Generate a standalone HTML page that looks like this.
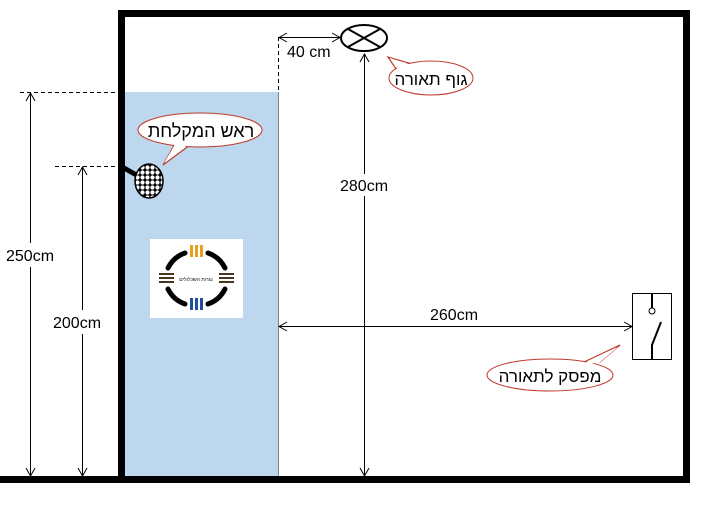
<!DOCTYPE html>
<html><head><meta charset="utf-8"><style>
html,body{margin:0;padding:0;background:#fff;width:708px;height:512px;overflow:hidden}
svg{display:block}
text{font-family:"Liberation Sans","DejaVu Sans",sans-serif;fill:#000}
</style></head><body>
<svg width="708" height="512" viewBox="0 0 708 512" xmlns="http://www.w3.org/2000/svg">
<defs>
<pattern id="dots" width="5" height="5" patternUnits="userSpaceOnUse">
<rect width="5" height="5" fill="#000"/><circle cx="2.5" cy="2.5" r="2.1" fill="#fff"/>
</pattern>
</defs>
<!-- blue area -->
<rect x="125" y="92" width="153" height="385" fill="#bdd7ee"/>
<line x1="278.5" y1="92" x2="278.5" y2="477" stroke="#6f8799" stroke-width="1"/>
<!-- walls -->
<rect x="118" y="10" width="572" height="7" fill="#000"/>
<rect x="118" y="10" width="7" height="473" fill="#000"/>
<rect x="683" y="10" width="7" height="473" fill="#000"/>
<rect x="0" y="476" width="690" height="7" fill="#000"/>
<!-- logo -->
<rect x="150" y="239" width="93" height="79" fill="#fff"/>
<g fill="none" stroke="#000" stroke-width="5" stroke-linecap="round">
<path d="M185,253 A30,30 0 0 0 168,268"/>
<path d="M208,253 A30,30 0 0 1 225,268"/>
<path d="M168,289 A30,30 0 0 0 185,304"/>
<path d="M225,289 A30,30 0 0 1 208,304"/>
</g>
<g fill="#e8a020"><rect x="190" y="245" width="3" height="12"/><rect x="195" y="245" width="3" height="12"/><rect x="200" y="245" width="3" height="12"/></g>
<g fill="#1f4fa0"><rect x="190" y="298" width="3" height="12"/><rect x="195" y="298" width="3" height="12"/><rect x="200" y="298" width="3" height="12"/></g>
<g fill="#4a3520"><rect x="159" y="273" width="15" height="2"/><rect x="159" y="277" width="15" height="2"/><rect x="159" y="281" width="15" height="2"/>
<rect x="219" y="273" width="15" height="2"/><rect x="219" y="277" width="15" height="2"/><rect x="219" y="281" width="15" height="2"/></g>
<text x="196" y="281" font-size="5" text-anchor="middle">נגרות השכלולים</text>
<!-- shower -->
<line x1="124" y1="168" x2="140" y2="177" stroke="#000" stroke-width="5"/>
<ellipse cx="149" cy="181" rx="14" ry="17" fill="url(#dots)" stroke="#000" stroke-width="1.5"/>
<!-- lamp -->
<ellipse cx="364" cy="38" rx="23" ry="13" fill="#fff" stroke="#000" stroke-width="2"/>
<line x1="348" y1="29" x2="380" y2="47" stroke="#000" stroke-width="2"/>
<line x1="348" y1="47" x2="380" y2="29" stroke="#000" stroke-width="2"/>
<!-- 40cm -->
<line x1="278.5" y1="37" x2="278.5" y2="92" stroke="#000" stroke-dasharray="4,3"/>
<line x1="279" y1="37.5" x2="340" y2="37.5" stroke="#000"/>
<path d="M287,33 L279,37.5 L287,42 M332,33 L340,37.5 L332,42" fill="none" stroke="#000"/>
<text x="287" y="57" font-size="16">40 cm</text>
<!-- 280 -->
<line x1="364.5" y1="54" x2="364.5" y2="476" stroke="#000"/>
<path d="M360,62 L364.5,54 L369,62 M360,468 L364.5,476 L369,468" fill="none" stroke="#000"/>
<rect x="338" y="174" width="56" height="22" fill="#fff"/>
<text x="340" y="191" font-size="16">280cm</text>
<!-- 250 -->
<line x1="20" y1="92.5" x2="118" y2="92.5" stroke="#000" stroke-dasharray="4,3"/>
<line x1="30.5" y1="93" x2="30.5" y2="476" stroke="#000"/>
<path d="M26,101 L30.5,93 L35,101 M26,468 L30.5,476 L35,468" fill="none" stroke="#000"/>
<rect x="4" y="243" width="58" height="24" fill="#fff"/>
<text x="6" y="261" font-size="16">250cm</text>
<!-- 200 -->
<line x1="55" y1="166.5" x2="118" y2="166.5" stroke="#000" stroke-dasharray="4,3"/>
<line x1="82.5" y1="167" x2="82.5" y2="476" stroke="#000"/>
<path d="M78,175 L82.5,167 L87,175 M78,468 L82.5,476 L87,468" fill="none" stroke="#000"/>
<rect x="52" y="310" width="56" height="24" fill="#fff"/>
<text x="53" y="328" font-size="16">200cm</text>
<!-- 260 -->
<line x1="279" y1="326.5" x2="632" y2="326.5" stroke="#000"/>
<path d="M287,322 L279,326.5 L287,331 M624,322 L632,326.5 L624,331" fill="none" stroke="#000"/>
<text x="430" y="320" font-size="16">260cm</text>
<!-- switch -->
<rect x="632.5" y="293.5" width="39" height="66" fill="#fff" stroke="#000"/>
<line x1="652" y1="294" x2="652" y2="308" stroke="#000" stroke-width="2"/>
<circle cx="652" cy="311" r="3" fill="#fff" stroke="#000"/>
<line x1="661" y1="322" x2="652" y2="345" stroke="#000" stroke-width="2"/>
<line x1="652" y1="344" x2="652" y2="360" stroke="#000" stroke-width="2"/>
<!-- callout 1 -->
<polygon points="176,142 194,142 163,165" fill="#fff" stroke="#c0392b" stroke-width="1.2"/>
<ellipse cx="200" cy="130" rx="62" ry="17" fill="#fff" stroke="#c0392b" stroke-width="1"/>
<polygon points="177,141 193,141 164,163" fill="#fff"/>
<text x="201" y="137" font-size="18" text-anchor="middle">ראש המקלחת</text>
<!-- callout 2 -->
<polygon points="398,72 412,64 388,57" fill="#fff" stroke="#c0392b" stroke-width="1.2"/>
<ellipse cx="431" cy="78" rx="42" ry="17" fill="#fff" stroke="#c0392b" stroke-width="1"/>
<polygon points="399,71 411,65 390,58" fill="#fff"/>
<text x="431" y="85" font-size="17" text-anchor="middle">גוף תאורה</text>
<!-- callout 3 -->
<polygon points="582,363 600,362 620,345" fill="#fff" stroke="#c0392b" stroke-width="1.2"/>
<ellipse cx="550" cy="375" rx="63" ry="16" fill="#fff" stroke="#c0392b" stroke-width="1"/>
<polygon points="583,364 599,363 618,347" fill="#fff"/>
<text x="550" y="382" font-size="17" text-anchor="middle">מפסק לתאורה</text>
</svg>
</body></html>
